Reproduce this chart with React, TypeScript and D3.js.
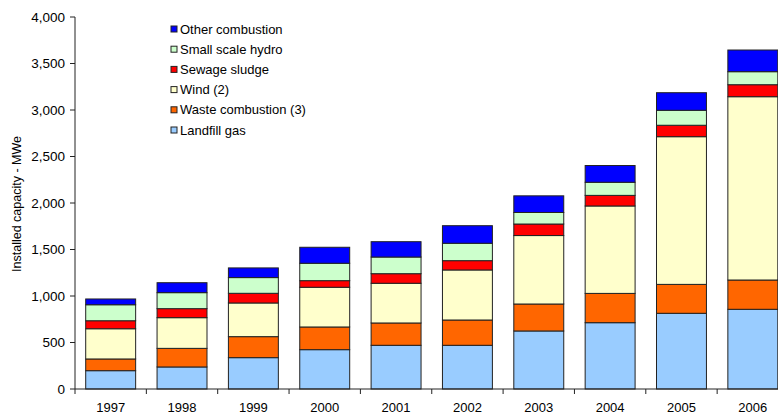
import React from "react";
import * as d3 from "d3";

const years = ["1997", "1998", "1999", "2000", "2001", "2002", "2003", "2004", "2005", "2006"];
const landfillGas = [197, 237, 337, 423, 470, 470, 624, 713, 814, 857];
const wasteCombustion = [126, 200, 226, 244, 240, 272, 290, 315, 311, 315];
const wind = [325, 330, 362, 427, 427, 538, 736, 940, 1588, 1971];
const sewageSludge = [86, 97, 104, 71, 103, 100, 124, 114, 123, 129];
const smallScaleHydro = [172, 172, 169, 187, 179, 187, 124, 141, 161, 140];
const otherCombustion = [62, 107, 104, 172, 165, 189, 179, 180, 189, 233];
const yTicks = [0, 500, 1000, 1500, 2000, 2500, 3000, 3500, 4000];

const seriesNames = [
  "Landfill gas",
  "Waste combustion (3)",
  "Wind (2)",
  "Sewage sludge",
  "Small scale hydro",
  "Other combustion",
];
const seriesValues = [landfillGas, wasteCombustion, wind, sewageSludge, smallScaleHydro, otherCombustion];
const colors = ["#99CCFF", "#FF6600", "#FFFFCC", "#FF0000", "#CCFFCC", "#0000FF"];

export default function App() {
  const W = 778;
  const H = 415;
  const x0 = 75;
  const step = 71.35;
  const x = d3
    .scaleBand<string>()
    .domain(years)
    .range([x0, x0 + step * years.length])
    .paddingInner(0.3)
    .paddingOuter(0.15);
  const y = d3.scaleLinear().domain([0, 4000]).range([389, 17]);

  const table = years.map((yr, i) => {
    const row: any = { year: yr };
    seriesNames.forEach((s, k) => (row[s] = seriesValues[k][i]));
    return row;
  });
  const stacked = d3.stack<any>().keys(seriesNames)(table);

  const font = "'Liberation Sans', Arial, sans-serif";
  const axisColor = "#222";

  const legendOrder = [...seriesNames].reverse();

  return (
    <svg
      width={W}
      height={H}
      style={{ position: "absolute", left: 0, top: 0, background: "#fff" }}
      fontFamily={font}
    >
      {/* bars */}
      {stacked.map((layer, k) => (
        <g key={layer.key}>
          {layer.map((d, i) => (
            <rect
              key={i}
              x={x(years[i])!}
              y={y(d[1])}
              width={x.bandwidth()}
              height={y(d[0]) - y(d[1])}
              fill={colors[k]}
              stroke="#222"
              strokeWidth={1}
            />
          ))}
        </g>
      ))}

      {/* y axis */}
      <line x1={x0} x2={x0} y1={y(4000)} y2={y(0)} stroke={axisColor} strokeWidth={1} />
      {yTicks.map((t) => (
        <g key={t}>
          <line x1={x0 - 5} x2={x0} y1={y(t)} y2={y(t)} stroke={axisColor} strokeWidth={1} />
          <text
            x={x0 - 10}
            y={y(t)}
            textAnchor="end"
            dominantBaseline="central"
            fontSize={13.5}
            fill="#000"
          >
            {d3.format(",")(t)}
          </text>
        </g>
      ))}

      {/* x axis */}
      <line x1={x0} x2={W} y1={y(0)} y2={y(0)} stroke={axisColor} strokeWidth={1} />
      {d3.range(years.length + 1).map((i) => (
        <line
          key={i}
          x1={x0 + i * step}
          x2={x0 + i * step}
          y1={y(0)}
          y2={y(0) + 5}
          stroke={axisColor}
          strokeWidth={1}
        />
      ))}
      {years.map((yr) => (
        <text
          key={yr}
          x={x(yr)! + x.bandwidth() / 2}
          y={412}
          textAnchor="middle"
          fontSize={13}
          fill="#000"
        >
          {yr}
        </text>
      ))}

      {/* y label */}
      <text
        transform={`translate(21,204) rotate(-90)`}
        textAnchor="middle"
        fontSize={12.5}
        fill="#000"
      >
        Installed capacity - MWe
      </text>

      {/* legend */}
      {legendOrder.map((name, j) => {
        const k = seriesNames.indexOf(name);
        const cy = 29 + j * 20.2;
        return (
          <g key={name}>
            <rect x={171} y={cy - 3} width={6} height={6} fill={colors[k]} stroke="#222" strokeWidth={1} />
            <text x={180} y={cy} dominantBaseline="central" fontSize={13} fill="#000">
              {name}
            </text>
          </g>
        );
      })}
    </svg>
  );
}
